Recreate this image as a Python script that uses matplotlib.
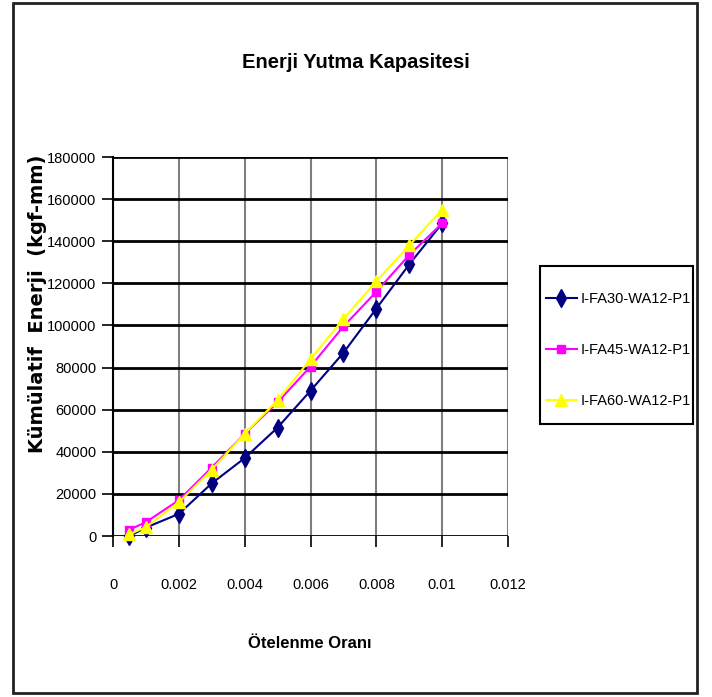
import matplotlib.pyplot as plt
from matplotlib.patches import Rectangle

nombre_imagen = "out.png"

oran = [0.0005, 0.001, 0.002, 0.003, 0.004, 0.005, 0.006, 0.007, 0.008, 0.009, 0.01]
fa30 = [0, 4000, 10500, 25000, 37000, 51500, 69000, 87000, 108000, 129000, 148500]
fa45 = [3000, 6600, 17000, 32500, 48500, 63500, 80500, 99500, 116000, 133500, 148500]
fa60 = [800, 4300, 16000, 31500, 48500, 64500, 84000, 103000, 121000, 138000, 155000]

series = [
    ("I-FA30-WA12-P1", fa30, "#000080", "d", 9),
    ("I-FA45-WA12-P1", fa45, "#FF00FF", "s", 6),
    ("I-FA60-WA12-P1", fa60, "#FFFF00", "^", 9),
]

yazi = ["Liberation Sans", "DejaVu Sans"]

fig = plt.figure(figsize=(7.12, 6.97), dpi=100)
ax = fig.add_axes([113 / 712, 1 - 536 / 697, 395 / 712, 379 / 697])

for etiqueta, valores, renk, marker, ms in series:
    ax.plot(oran, valores, color=renk, marker=marker, markersize=ms,
            linewidth=1.5, label=etiqueta, clip_on=False, zorder=3)

ax.set_xlim(0, 0.012)
ax.set_ylim(0, 180000)
ax.set_xticks([0, 0.002, 0.004, 0.006, 0.008, 0.01, 0.012])
ax.set_xticklabels(["0", "0.002", "0.004", "0.006", "0.008", "0.01", "0.012"])
ax.set_yticks(range(0, 180001, 20000))
ax.set_yticklabels([str(v) for v in range(0, 180001, 20000)])

# yatay kılavuz çizgileri siyah, dikeyler gri
ax.grid(True, axis="y", color="black", linewidth=2)
ax.grid(True, axis="x", color="#7f7f7f", linewidth=1.5)
ax.set_axisbelow(True)
for s in ["top", "right", "bottom"]:
    ax.spines[s].set_visible(False)
ax.spines["left"].set_linewidth(1.5)
ax.tick_params(axis="both", direction="out", length=8, width=1.2, labelsize=10.5)
ax.tick_params(axis="y", pad=4)
ax.tick_params(axis="x", pad=22)
for lab in ax.get_xticklabels() + ax.get_yticklabels():
    lab.set_family(yazi)

fig.text(356 / 712, 1 - 62 / 697, "Enerji Yutma Kapasitesi", ha="center", va="center",
         fontsize=14.5, fontweight="bold", family=yazi)
fig.text(310 / 712, 1 - 643 / 697, "Ötelenme Oranı", ha="center", va="center",
         fontsize=12, fontweight="bold", family=yazi)
fig.text(38 / 712, 1 - 304 / 697, "Kümülatif  Enerji  (kgf-mm)", ha="center", va="center",
         rotation=90, fontsize=14, fontweight="bold", family="DejaVu Sans")

leg = ax.legend(loc="center left", bbox_to_anchor=(546 / 712, 1 - 350 / 697),
                bbox_transform=fig.transFigure, frameon=False,
                prop={"family": yazi, "size": 10.5},
                handlelength=2.1, handletextpad=0.3, labelspacing=2.55,
                borderpad=0, borderaxespad=0)

# lejant kutusu ve dış çerçeve
fig.patches.append(Rectangle((540 / 712, 1 - 424 / 697), 153 / 712, 158 / 697,
                             transform=fig.transFigure, fill=False,
                             edgecolor="black", linewidth=1.5))
fig.patches.append(Rectangle((13 / 712, 4 / 697), 684 / 712, 690 / 697,
                             transform=fig.transFigure, fill=False,
                             edgecolor="#222222", linewidth=2))

plt.savefig(nombre_imagen, dpi=100)
